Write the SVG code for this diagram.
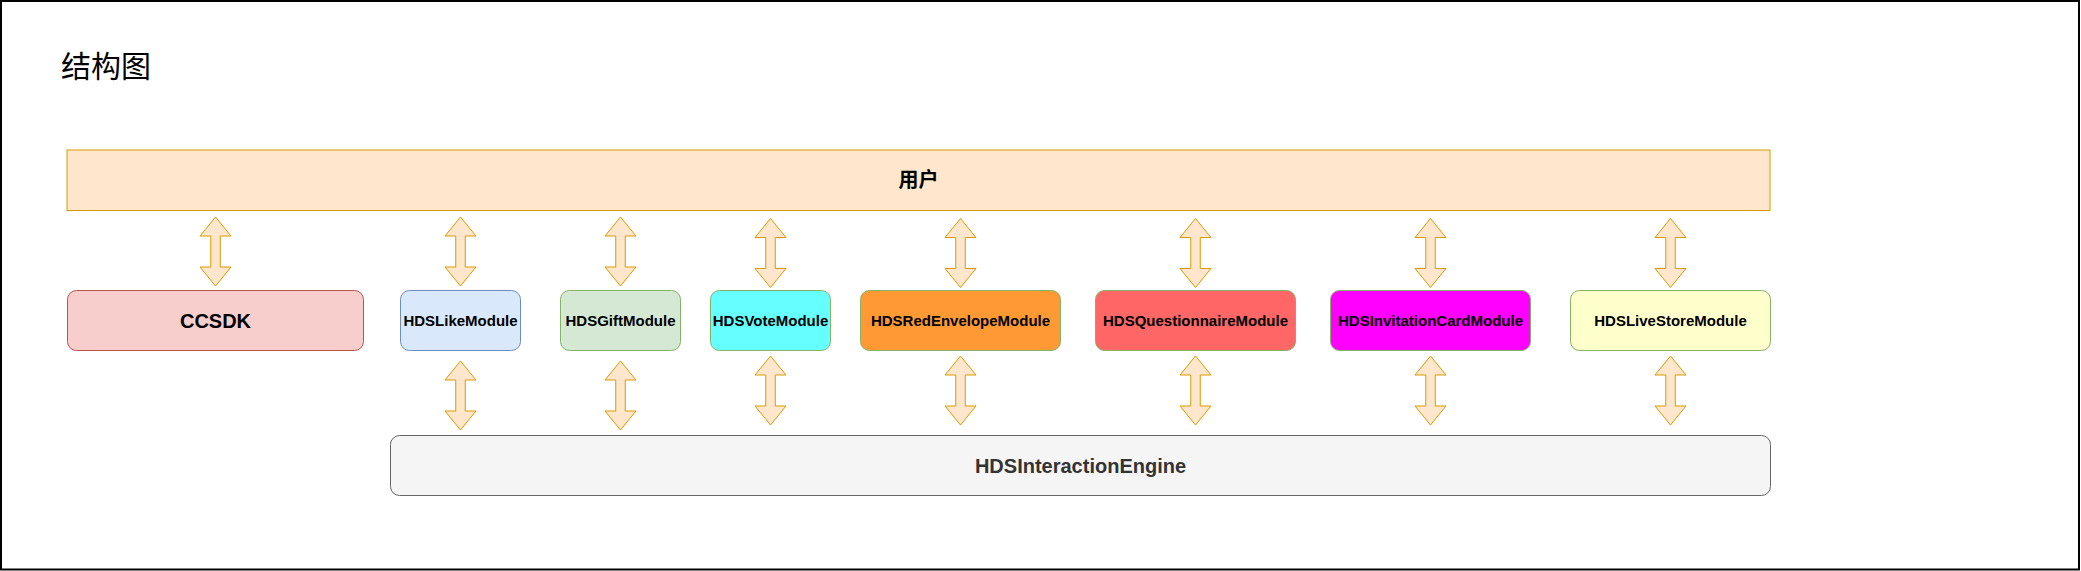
<svg xmlns="http://www.w3.org/2000/svg" xmlns:xlink="http://www.w3.org/1999/xlink" width="2081" height="571" viewBox="0 0 2081 571">
<style>
.lbl{font-family:"Liberation Sans",Arial,"Noto Sans CJK SC",sans-serif;font-weight:bold;text-anchor:middle;fill:#000}
.mod{font-size:15px}
.big{font-size:20px}
.cjk{font-family:"Noto Sans CJK SC","Liberation Sans",sans-serif}
.arr{fill:#ffe6cc;stroke:#d79b00;stroke-width:1}
</style>
<defs>
<path id="dbl" class="arr" d="M0,0 L15.5,19 L4.75,19 L4.75,50 L15.5,50 L0,69 L-15.5,50 L-4.75,50 L-4.75,19 L-15.5,19 Z"/>
</defs>
<rect x="0" y="0" width="2081" height="571" fill="#ffffff"/>
<rect x="1" y="1" width="2078" height="568.5" fill="none" stroke="#000" stroke-width="2"/>
<text x="61" y="77" class="cjk" font-size="30" fill="#000">结构图</text>

<g id="user">
<rect x="67" y="150" width="1703" height="60.5" fill="#ffe6cc" stroke="#d79b00"/>
<text x="918.5" y="187" class="lbl cjk" font-size="20" font-weight="bold" style="font-family:'Noto Sans CJK SC',sans-serif">用户</text>
</g>
<g id="ccsdk">
<rect x="67.5" y="290.5" width="296" height="60" rx="9" fill="#f8cecc" stroke="#b85450"/>
<text x="215.5" y="327.5" class="lbl big">CCSDK</text>
</g>
<g id="like">
<rect x="400.5" y="290.5" width="120" height="60" rx="9" fill="#dae8fc" stroke="#6c8ebf"/>
<text x="460.5" y="325.5" class="lbl mod">HDSLikeModule</text>
</g>
<g id="gift">
<rect x="560.5" y="290.5" width="120" height="60" rx="9" fill="#d5e8d4" stroke="#82b366"/>
<text x="620.5" y="325.5" class="lbl mod">HDSGiftModule</text>
</g>
<g id="vote">
<rect x="710.5" y="290.5" width="120" height="60" rx="9" fill="#66ffff" stroke="#82b366"/>
<text x="770.5" y="325.5" class="lbl mod">HDSVoteModule</text>
</g>
<g id="redenvelope">
<rect x="860.5" y="290.5" width="200" height="60" rx="9" fill="#ff9933" stroke="#82b366"/>
<text x="960.5" y="325.5" class="lbl mod">HDSRedEnvelopeModule</text>
</g>
<g id="questionnaire">
<rect x="1095.5" y="290.5" width="200" height="60" rx="9" fill="#ff6666" stroke="#82b366"/>
<text x="1195.5" y="325.5" class="lbl mod">HDSQuestionnaireModule</text>
</g>
<g id="invitation">
<rect x="1330.5" y="290.5" width="200" height="60" rx="9" fill="#ff00ff" stroke="#82b366"/>
<text x="1430.5" y="325.5" class="lbl mod">HDSInvitationCardModule</text>
</g>
<g id="livestore">
<rect x="1570.5" y="290.5" width="200" height="60" rx="9" fill="#ffffcc" stroke="#82b366"/>
<text x="1670.5" y="325.5" class="lbl mod">HDSLiveStoreModule</text>
</g>
<g id="engine">
<rect x="390.5" y="435.5" width="1380" height="60" rx="9" fill="#f5f5f5" stroke="#666666"/>
<text x="1080.5" y="472.5" class="lbl big" style="fill:#333333">HDSInteractionEngine</text>
</g>

<g id="connectors">
<use xlink:href="#dbl" transform="translate(215.5,217)"/>
<use xlink:href="#dbl" transform="translate(460.5,217)"/>
<use xlink:href="#dbl" transform="translate(460.5,361)"/>
<use xlink:href="#dbl" transform="translate(620.5,217)"/>
<use xlink:href="#dbl" transform="translate(620.5,361)"/>
<use xlink:href="#dbl" transform="translate(770.5,218.5)"/>
<use xlink:href="#dbl" transform="translate(770.5,356)"/>
<use xlink:href="#dbl" transform="translate(960.5,218.5)"/>
<use xlink:href="#dbl" transform="translate(960.5,356)"/>
<use xlink:href="#dbl" transform="translate(1195.5,218.5)"/>
<use xlink:href="#dbl" transform="translate(1195.5,356)"/>
<use xlink:href="#dbl" transform="translate(1430.5,218.5)"/>
<use xlink:href="#dbl" transform="translate(1430.5,356)"/>
<use xlink:href="#dbl" transform="translate(1670.5,218.5)"/>
<use xlink:href="#dbl" transform="translate(1670.5,356)"/>
</g>
</svg>
